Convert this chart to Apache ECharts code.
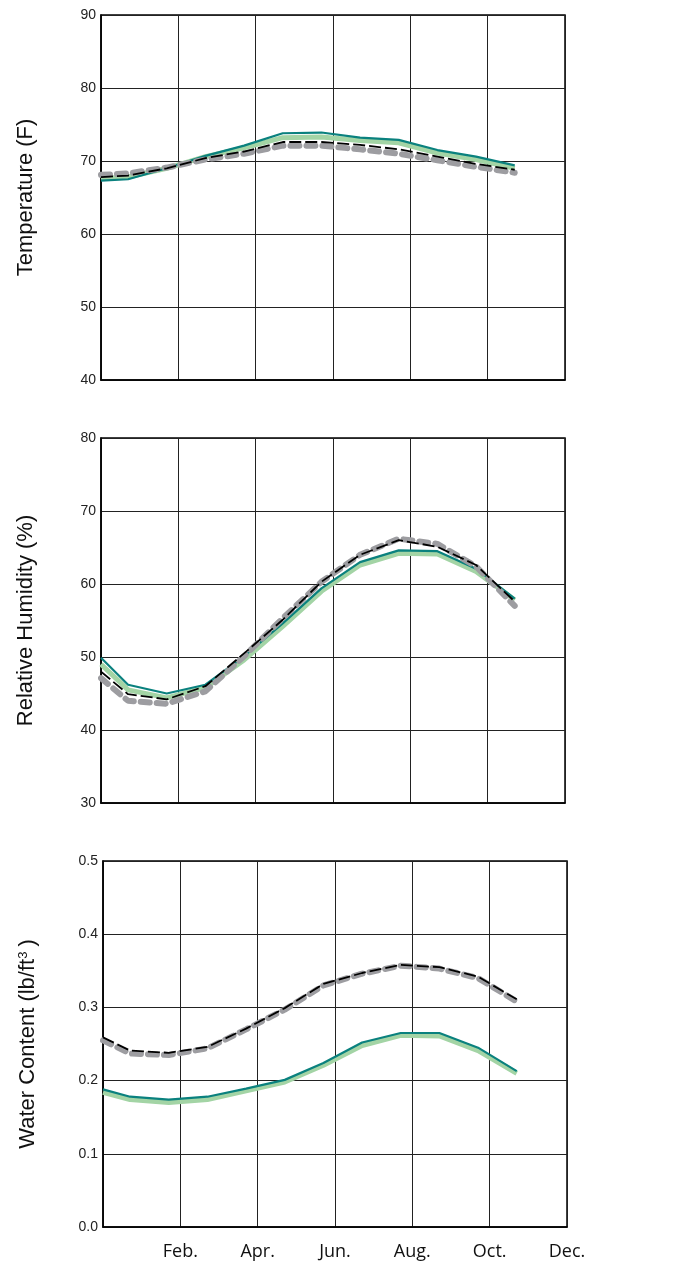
<!DOCTYPE html>
<html>
<head>
<meta charset="utf-8">
<script src="https://cdn.jsdelivr.net/npm/echarts@6/dist/echarts.min.js"></script>
<style>
  html, body { margin: 0; padding: 0; background: #fff; }
  #chart { width: 676px; height: 1268px; }
</style>
</head>
<body>
<div id="chart"></div>
<script>
// x positions in months (0 = left edge of plot, 12 = right edge)
var months = [0, 0.7, 1.7, 2.7, 3.7, 4.7, 5.7, 6.7, 7.7, 8.7, 9.7, 10.7]
var monthLabels = ['', 'Feb.', 'Apr.', 'Jun.', 'Aug.', 'Oct.', 'Dec.']

// temperature (F)
var tempTeal = [67.3, 67.5, 69.0, 70.7, 72.1, 73.8, 73.9, 73.2, 72.9, 71.5, 70.6, 69.4]
var tempGreen = [67.6, 67.8, 69.0, 70.6, 71.8, 73.2, 73.3, 72.8, 72.5, 71.1, 70.2, 69.0]
var tempBlack = [67.8, 68.0, 69.0, 70.4, 71.3, 72.6, 72.6, 72.2, 71.6, 70.6, 69.6, 68.8]
var tempGray = [68.1, 68.3, 69.1, 70.2, 71.0, 72.1, 72.1, 71.6, 71.0, 70.1, 69.2, 68.4]

// relative humidity (%)
var rhTeal = [49.9, 46.2, 45.0, 46.2, 50.1, 54.6, 59.4, 63.0, 64.6, 64.5, 62.1, 58.0]
var rhGreen = [49.0, 45.5, 44.4, 45.8, 49.6, 54.2, 59.0, 62.6, 64.2, 64.1, 61.7, 57.8]
var rhBlack = [48.0, 44.9, 44.2, 46.0, 50.5, 55.1, 60.3, 64.0, 66.0, 65.1, 62.6, 57.6]
var rhGray = [47.1, 44.0, 43.6, 45.3, 50.1, 55.3, 60.3, 64.0, 66.2, 65.5, 62.4, 57.0]

// water content (lb/ft3)
var wcTeal = [0.188, 0.178, 0.174, 0.178, 0.189, 0.201, 0.224, 0.252, 0.265, 0.265, 0.245, 0.213]
var wcGreen = [0.184, 0.174, 0.170, 0.174, 0.186, 0.198, 0.221, 0.248, 0.262, 0.261, 0.241, 0.210]
var wcBlack = [0.259, 0.241, 0.238, 0.246, 0.271, 0.299, 0.332, 0.347, 0.358, 0.355, 0.342, 0.311]
var wcGray = [0.255, 0.237, 0.235, 0.244, 0.270, 0.297, 0.330, 0.346, 0.357, 0.353, 0.340, 0.308]

var font = 'Liberation Sans, Arial, sans-serif'

function pairs (ys) {
  return ys.map(function (y, i) { return [months[i], y] })
}

function xAxisFor (idx, showLabels) {
  return {
    gridIndex: idx,
    type: 'value',
    min: 0,
    max: 12,
    interval: 2,
    axisLine: { show: true, onZero: false, lineStyle: { color: '#000', width: 1.5 } },
    axisTick: { show: false },
    splitLine: { show: true, lineStyle: { color: '#222', width: 1 } },
    axisLabel: {
      show: showLabels,
      color: '#111',
      fontFamily: 'Open Sans, sans-serif',
      fontSize: 18,
      margin: 16,
      formatter: function (v) { return monthLabels[v / 2] || '' }
    }
  }
}

function yAxisFor (idx, min, max, interval, name, digits) {
  return {
    gridIndex: idx,
    type: 'value',
    min: min,
    max: max,
    interval: interval,
    name: name,
    nameLocation: 'middle',
    nameRotate: 90,
    nameGap: 64,
    nameTextStyle: {
      color: '#111',
      fontFamily: font,
      fontSize: 22,
      rich: {
        t: { fontFamily: font, fontSize: 22, color: '#111' },
        s: { fontFamily: font, fontSize: 13, color: '#111', verticalAlign: 'top', padding: [0, 5, 9, 0] }
      }
    },
    axisLine: { show: true, lineStyle: { color: '#000', width: 1.5 } },
    axisTick: { show: false },
    splitLine: { show: true, lineStyle: { color: '#222', width: 1 } },
    axisLabel: {
      color: '#222',
      fontFamily: font,
      fontSize: 14,
      margin: 5,
      formatter: function (v) { return v.toFixed(digits) }
    }
  }
}

function seriesFor (idx, teal, green, black, gray) {
  return [
    {
      type: 'line', xAxisIndex: idx, yAxisIndex: idx, data: pairs(green),
      showSymbol: false, lineStyle: { color: '#a3d4a5', width: 5 }
    },
    {
      type: 'line', xAxisIndex: idx, yAxisIndex: idx, data: pairs(teal),
      showSymbol: false, lineStyle: { color: '#0a817e', width: 2.2 }
    },
    {
      type: 'line', xAxisIndex: idx, yAxisIndex: idx, data: pairs(gray),
      showSymbol: false, lineStyle: { color: '#9d9da1', width: 6, type: [9, 7], cap: 'round' }
    },
    {
      type: 'line', xAxisIndex: idx, yAxisIndex: idx, data: pairs(black),
      showSymbol: false, lineStyle: { color: '#000', width: 1.8, type: [12, 4] }
    }
  ]
}

var option = {
  animation: false,
  backgroundColor: '#fff',
  grid: [
    { left: 101, top: 15, width: 464, height: 365, show: true, borderColor: '#000', borderWidth: 1.5 },
    { left: 101, top: 438, width: 464, height: 365, show: true, borderColor: '#000', borderWidth: 1.5 },
    { left: 103, top: 861, width: 464, height: 366, show: true, borderColor: '#000', borderWidth: 1.5 }
  ],
  xAxis: [xAxisFor(0, false), xAxisFor(1, false), xAxisFor(2, true)],
  yAxis: [
    yAxisFor(0, 40, 90, 10, 'Temperature (F)', 0),
    yAxisFor(1, 30, 80, 10, 'Relative Humidity (%)', 0),
    yAxisFor(2, 0, 0.5, 0.1, '{t|Water Content (lb/ft}{s|3}{t|)}', 1)
  ],
  series: [].concat(
    seriesFor(0, tempTeal, tempGreen, tempBlack, tempGray),
    seriesFor(1, rhTeal, rhGreen, rhBlack, rhGray),
    seriesFor(2, wcTeal, wcGreen, wcBlack, wcGray)
  )
}

var myChart = echarts.init(document.getElementById('chart'))
myChart.setOption(option)
window.addEventListener('resize', function () {
  myChart.resize()
})
</script>
</body>
</html>
